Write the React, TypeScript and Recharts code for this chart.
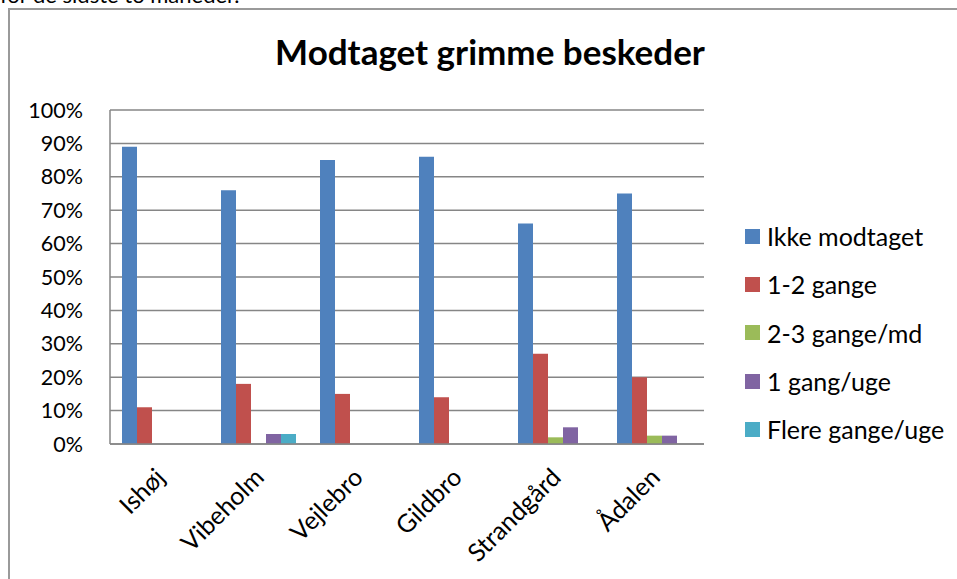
import React from 'react';
import { BarChart, Bar, XAxis, YAxis, CartesianGrid, Legend } from 'recharts';

const categories = ['Ishøj', 'Vibeholm', 'Vejlebro', 'Gildbro', 'Strandgård', 'Ådalen'];
const ikkeModtaget = [89, 76, 85, 86, 66, 75];
const gange12 = [11, 18, 15, 14, 27, 20];
const gange23md = [0, 0, 0, 0, 2, 2.5];
const gang1uge = [0, 3, 0, 0, 5, 2.5];
const flereGangeUge = [0, 3, 0, 0, 0, 0];
const yTicks = [0, 10, 20, 30, 40, 50, 60, 70, 80, 90, 100];

const seriesNames = ['Ikke modtaget', '1-2 gange', '2-3 gange/md', '1 gang/uge', 'Flere gange/uge'];
const seriesKeys = ['a', 'b', 'c', 'd', 'e'];
const colors = ['#4F81BD', '#C0504D', '#9BBB59', '#8064A2', '#4BACC6'];

const data = categories.map((name, i) => ({
  name,
  a: ikkeModtaget[i],
  b: gange12[i],
  c: gange23md[i],
  d: gang1uge[i],
  e: flereGangeUge[i],
}));

const FONT = 'Lato, "Open Sans", sans-serif';
const GRID = '#868686';

const XTick = (props: any) => {
  const { x, y, payload } = props;
  return (
    <g transform={`translate(${x + 7},${y + 27})`}>
      <text
        x={0}
        y={0}
        textAnchor="end"
        transform="rotate(-45)"
        fontFamily={FONT}
        fontSize={25}
        fill="#000"
      >
        {payload.value}
      </text>
    </g>
  );
};

const LegendContent = () => (
  <div style={{ fontFamily: FONT, fontSize: 25, color: '#000' }}>
    {seriesNames.map((n, i) => (
      <div key={n} style={{ display: 'flex', alignItems: 'center', height: 48.3 }}>
        <span style={{ display: 'inline-block', width: 15, height: 15, background: colors[i], marginRight: 7 }} />
        <span style={{ whiteSpace: 'nowrap' }}>{n}</span>
      </div>
    ))}
  </div>
);

export default function App() {
  return (
    <div style={{ position: 'fixed', left: 0, top: 0, width: 957, height: 579, overflow: 'hidden', background: '#fff' }}>
      <div style={{ position: 'absolute', left: 0, top: -16, fontFamily: FONT, fontSize: 22, lineHeight: '22px', whiteSpace: 'nowrap', color: '#000' }}>
        for de sidste to måneder.
      </div>
      <div style={{ position: 'absolute', left: 8, top: 8, width: 960, height: 600, borderTop: '2px solid #9a9a9a', borderLeft: '2px solid #9a9a9a' }} />
      <div style={{ position: 'absolute', left: 0, top: 0 }}>
        <BarChart
          width={957}
          height={579}
          data={data}
          margin={{ top: 110, right: 43, bottom: 0, left: 10 }}
          barSize={15}
          barGap={0}
        >
          <CartesianGrid vertical={false} stroke={GRID} strokeWidth={1.5} />
          <XAxis
            dataKey="name"
            height={135}
            interval={0}
            axisLine={{ stroke: GRID, strokeWidth: 1.5 }}
            tickLine={false}
            tick={<XTick />}
          />
          <YAxis
            width={100}
            domain={[0, 100]}
            ticks={yTicks}
            interval={0}
            tickFormatter={(v: number) => `${v}%`}
            axisLine={{ stroke: GRID, strokeWidth: 1.5 }}
            tickLine={false}
            tickSize={0}
            tickMargin={27}
            tick={{ fontFamily: FONT, fontSize: 21.5, fill: '#000' }}
          />
          <Legend
            layout="vertical"
            align="right"
            verticalAlign="middle"
            content={<LegendContent />}
            wrapperStyle={{ position: 'absolute', left: 745, top: 212, width: 210, height: 242 }}
          />
          {seriesKeys.map((k, i) => (
            <Bar key={k} dataKey={k} name={seriesNames[i]} fill={colors[i]} isAnimationActive={false} />
          ))}
        </BarChart>
      </div>
      <div style={{ position: 'absolute', left: 240, width: 500, top: 30, textAlign: 'center', fontFamily: FONT, fontWeight: 'bold', fontSize: 35, color: '#000', whiteSpace: 'nowrap' }}>
        Modtaget grimme beskeder
      </div>
    </div>
  );
}
